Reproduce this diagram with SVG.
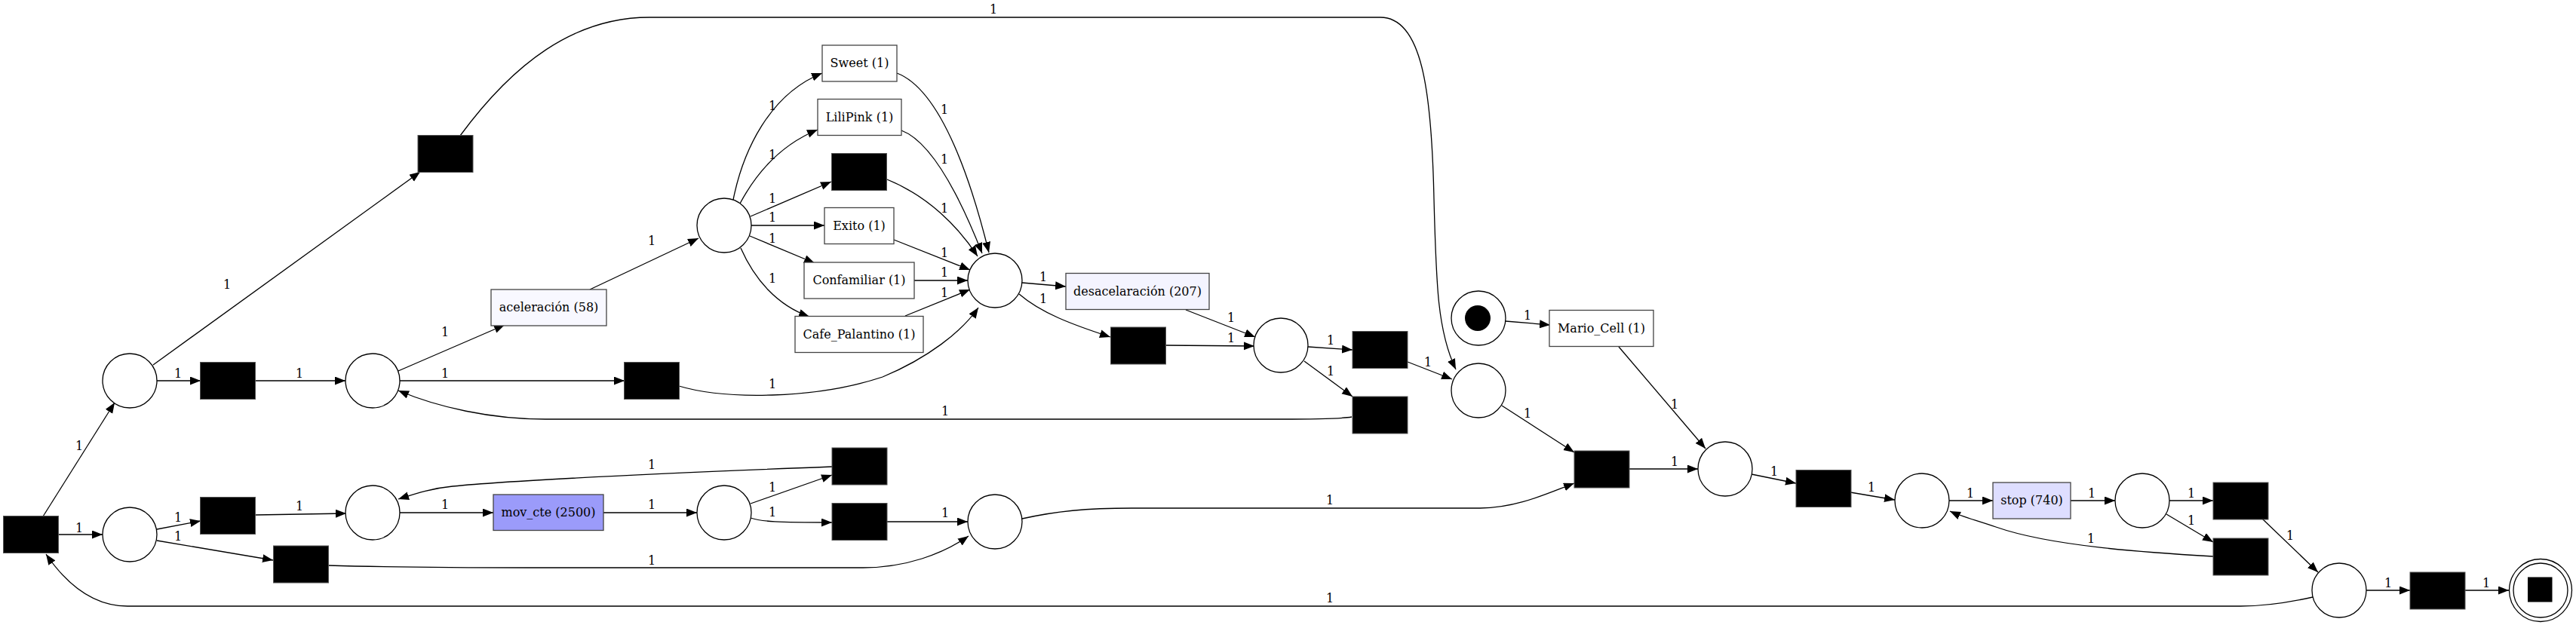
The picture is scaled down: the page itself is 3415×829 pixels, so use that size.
<svg xmlns="http://www.w3.org/2000/svg" width="3415" height="829" viewBox="0 0 3415 829">
<defs>
<marker id="arr" markerUnits="userSpaceOnUse" markerWidth="15" markerHeight="12" refX="14" refY="5.5" orient="auto"><path d="M0,0 L14,5.5 L0,11 z" fill="#000"/></marker>
<style>
.e{fill:none;stroke:#000;stroke-width:1.3;marker-end:url(#arr)}
.l{font-family:"DejaVu Serif","Liberation Serif",serif;font-size:16px;text-anchor:middle;fill:#000}
.t{font-family:"DejaVu Serif","Liberation Serif",serif;font-size:16px;text-anchor:middle;fill:#000}
.p{fill:#fff;stroke:#000;stroke-width:1.3}
.h{fill:#000;stroke:#555;stroke-width:1}
.b{stroke:#444;stroke-width:1.3}
</style>
</defs>
<rect width="3415" height="829" fill="#fff"/>
<g id="connectors">
<path class="e" d="M57,685 L152,534"/>
<path class="e" d="M78,709 L136,709"/>
<path class="e" d="M3066,792 C3030,800 3000,804 2970,804 L169,804 C120,804 85,770 61,735"/>
<path class="e" d="M203,484 L557,228"/>
<path class="e" d="M208,505 L266,505"/>
<path class="e" d="M339,505 L458,505"/>
<path class="e" d="M528,492 L669,431"/>
<path class="e" d="M530,505 L828,505"/>
<path class="e" d="M782,384 L926,316"/>
<path class="e" d="M972,265 C985,200 1020,125 1090,97"/>
<path class="e" d="M981,270 C1005,225 1040,190 1084,172"/>
<path class="e" d="M995,287 L1102,241"/>
<path class="e" d="M996,299 L1093,299"/>
<path class="e" d="M994,313 L1080,349"/>
<path class="e" d="M982,329 C1000,370 1030,405 1073,420"/>
<path class="e" d="M1189,97 C1250,120 1290,250 1311,335"/>
<path class="e" d="M1195,173 C1240,190 1280,280 1302,336"/>
<path class="e" d="M1176,238 C1230,260 1270,300 1296,340"/>
<path class="e" d="M1185,318 L1286,358"/>
<path class="e" d="M1212,372 L1283,372"/>
<path class="e" d="M1200,419 L1286,384"/>
<path class="e" d="M900,512 C960,530 1080,530 1170,500 C1230,475 1275,440 1297,408"/>
<path class="e" d="M1355,375 L1413,380"/>
<path class="e" d="M1351,390 C1380,415 1420,430 1472,447"/>
<path class="e" d="M1572,411 L1664,447"/>
<path class="e" d="M1545,458 L1663,459"/>
<path class="e" d="M1734,460 L1793,464"/>
<path class="e" d="M1729,479 L1793,526"/>
<path class="e" d="M1792,553 C1780,555 1760,556 1700,556 L723,556 C650,556 580,540 528,518"/>
<path class="e" d="M1866,480 L1925,503"/>
<path class="e" d="M610,180 C680,85 760,23 861,23 L1830,23 C1885,23 1898,120 1901,264 C1904,380 1906,440 1930,490"/>
<path class="e" d="M1996,426 L2055,431"/>
<path class="e" d="M2146,460 L2261,595"/>
<path class="e" d="M1991,538 L2087,600"/>
<path class="e" d="M1355,688 C1400,678 1440,674 1500,674 L1962,674 C2010,674 2050,655 2087,641"/>
<path class="e" d="M2160,622 L2251,622"/>
<path class="e" d="M2322,629 L2381,641"/>
<path class="e" d="M2453,653 L2512,663"/>
<path class="e" d="M2584,664 L2642,664"/>
<path class="e" d="M2745,664 L2804,664"/>
<path class="e" d="M2876,664 L2934,664"/>
<path class="e" d="M2872,682 L2934,719"/>
<path class="e" d="M2934,738 C2850,733 2720,725 2646,699 C2620,690 2600,685 2585,678"/>
<path class="e" d="M2999,688 L3073,759"/>
<path class="e" d="M3137,783 L3195,783"/>
<path class="e" d="M3267,783 L3326,783"/>
<path class="e" d="M208,702 L266,691"/>
<path class="e" d="M208,717 L362,743"/>
<path class="e" d="M339,683 L459,681"/>
<path class="e" d="M530,680 L654,680"/>
<path class="e" d="M800,680 L924,680"/>
<path class="e" d="M995,668 L1103,630"/>
<path class="e" d="M995,687 C1010,692 1030,693 1103,693"/>
<path class="e" d="M1175,692 L1283,692"/>
<path class="e" d="M1103,619 C1000,623 700,635 600,645 C570,648 550,655 528,662"/>
<path class="e" d="M435,750 C500,752 600,753 700,753 L1144,753 C1200,753 1250,735 1284,711"/>
</g>
<g id="edge-labels">
<text class="l" x="105" y="597">1</text>
<text class="l" x="105" y="706">1</text>
<text class="l" x="1763" y="799">1</text>
<text class="l" x="301" y="383">1</text>
<text class="l" x="236" y="501">1</text>
<text class="l" x="397" y="501">1</text>
<text class="l" x="590" y="446">1</text>
<text class="l" x="590" y="501">1</text>
<text class="l" x="864" y="325">1</text>
<text class="l" x="1024" y="146">1</text>
<text class="l" x="1024" y="211">1</text>
<text class="l" x="1024" y="269">1</text>
<text class="l" x="1024" y="294">1</text>
<text class="l" x="1024" y="322">1</text>
<text class="l" x="1024" y="375">1</text>
<text class="l" x="1252" y="151">1</text>
<text class="l" x="1252" y="217">1</text>
<text class="l" x="1252" y="282">1</text>
<text class="l" x="1252" y="341">1</text>
<text class="l" x="1252" y="367">1</text>
<text class="l" x="1252" y="394">1</text>
<text class="l" x="1024" y="515">1</text>
<text class="l" x="1383" y="373">1</text>
<text class="l" x="1383" y="402">1</text>
<text class="l" x="1632" y="427">1</text>
<text class="l" x="1632" y="454">1</text>
<text class="l" x="1764" y="457">1</text>
<text class="l" x="1764" y="498">1</text>
<text class="l" x="1253" y="551">1</text>
<text class="l" x="1893" y="486">1</text>
<text class="l" x="1317" y="18">1</text>
<text class="l" x="2025" y="424">1</text>
<text class="l" x="2220" y="542">1</text>
<text class="l" x="2025" y="554">1</text>
<text class="l" x="1763" y="669">1</text>
<text class="l" x="2220" y="618">1</text>
<text class="l" x="2352" y="631">1</text>
<text class="l" x="2481" y="652">1</text>
<text class="l" x="2612" y="660">1</text>
<text class="l" x="2773" y="660">1</text>
<text class="l" x="2905" y="660">1</text>
<text class="l" x="2905" y="696">1</text>
<text class="l" x="2772" y="720">1</text>
<text class="l" x="3036" y="716">1</text>
<text class="l" x="3166" y="779">1</text>
<text class="l" x="3296" y="779">1</text>
<text class="l" x="236" y="692">1</text>
<text class="l" x="236" y="717">1</text>
<text class="l" x="397" y="677">1</text>
<text class="l" x="590" y="675">1</text>
<text class="l" x="864" y="675">1</text>
<text class="l" x="1024" y="652">1</text>
<text class="l" x="1024" y="685">1</text>
<text class="l" x="1253" y="686">1</text>
<text class="l" x="864" y="622">1</text>
<text class="l" x="864" y="749">1</text>
</g>
<g id="t0"><rect class="h" x="4.5" y="684.5" width="73" height="49"/></g>
<g id="tA"><rect class="h" x="265.5" y="480.5" width="73" height="49"/></g>
<g id="tTop"><rect class="h" x="554" y="179.5" width="73" height="49"/></g>
<g id="tB"><rect class="h" x="265.5" y="659.5" width="73" height="49"/></g>
<g id="tC"><rect class="h" x="362.5" y="724" width="73" height="49"/></g>
<g id="tD"><rect class="h" x="827.5" y="480.5" width="73" height="49"/></g>
<g id="tE"><rect class="h" x="1102.5" y="203.5" width="73" height="49"/></g>
<g id="tF"><rect class="h" x="1472.5" y="434" width="73" height="49"/></g>
<g id="tG"><rect class="h" x="1793" y="439.5" width="73" height="49"/></g>
<g id="tH"><rect class="h" x="1793" y="526" width="73" height="49"/></g>
<g id="tI"><rect class="h" x="1103" y="594" width="73" height="49"/></g>
<g id="tJ"><rect class="h" x="1103" y="667.5" width="73" height="49"/></g>
<g id="tK"><rect class="h" x="2087" y="598" width="73" height="49"/></g>
<g id="tL"><rect class="h" x="2381" y="623.5" width="73" height="49"/></g>
<g id="tM"><rect class="h" x="2934" y="640" width="73" height="49"/></g>
<g id="tN"><rect class="h" x="2934" y="714" width="73" height="49"/></g>
<g id="tO"><rect class="h" x="3195" y="759" width="73" height="49"/></g>
<g id="t-aceleracion"><rect class="b" x="651" y="384" width="153" height="48" fill="#f8f8ff"/><text class="t" x="727.5" y="413">aceleración (58)</text></g>
<g id="t-movcte"><rect class="b" x="654" y="656" width="146" height="47.5" fill="#9b9bfa"/><text class="t" x="727" y="685">mov_cte (2500)</text></g>
<g id="t-sweet"><rect class="b" x="1090" y="60" width="99" height="48" fill="#fff"/><text class="t" x="1139.5" y="89">Sweet (1)</text></g>
<g id="t-lilipink"><rect class="b" x="1084" y="131.5" width="111" height="48" fill="#fff"/><text class="t" x="1139.5" y="160.5">LiliPink (1)</text></g>
<g id="t-exito"><rect class="b" x="1093" y="275.5" width="92" height="48" fill="#fff"/><text class="t" x="1139" y="304.5">Exito (1)</text></g>
<g id="t-confamiliar"><rect class="b" x="1066" y="348" width="146" height="48" fill="#fff"/><text class="t" x="1139" y="377">Confamiliar (1)</text></g>
<g id="t-cafe"><rect class="b" x="1054" y="419.5" width="170" height="48" fill="#fff"/><text class="t" x="1139" y="448.5">Cafe_Palantino (1)</text></g>
<g id="t-desacel"><rect class="b" x="1413" y="362.5" width="190" height="48" fill="#f4f4ff"/><text class="t" x="1508" y="391.5">desacelaración (207)</text></g>
<g id="t-mario"><rect class="b" x="2054" y="411.5" width="138" height="48" fill="#fff"/><text class="t" x="2123" y="440.5">Mario_Cell (1)</text></g>
<g id="t-stop"><rect class="b" x="2642" y="640" width="103" height="48" fill="#dedeff"/><text class="t" x="2693.5" y="669">stop (740)</text></g>
<g id="P1"><circle class="p" cx="172" cy="505" r="36"/></g>
<g id="P2"><circle class="p" cx="172" cy="709" r="36"/></g>
<g id="P3"><circle class="p" cx="494" cy="505" r="36"/></g>
<g id="P4"><circle class="p" cx="494" cy="680" r="36"/></g>
<g id="Pchoice"><circle class="p" cx="960" cy="299" r="36"/></g>
<g id="Pmerge"><circle class="p" cx="1319" cy="372" r="36"/></g>
<g id="P6"><circle class="p" cx="960" cy="680" r="36"/></g>
<g id="P5"><circle class="p" cx="1319" cy="692" r="36"/></g>
<g id="Pd"><circle class="p" cx="1698" cy="458" r="36"/></g>
<g id="Pstart"><circle class="p" cx="1960" cy="422" r="36"/><circle cx="1959" cy="422" r="17" fill="#000"/></g>
<g id="Pq"><circle class="p" cx="1960" cy="518" r="36"/></g>
<g id="Pr"><circle class="p" cx="2287" cy="622" r="36"/></g>
<g id="Ps"><circle class="p" cx="2548" cy="664" r="36"/></g>
<g id="Pt"><circle class="p" cx="2840" cy="664" r="36"/></g>
<g id="Pu"><circle class="p" cx="3101" cy="783" r="36"/></g>
<g id="Pend"><circle class="p" cx="3368" cy="783" r="41.5"/><circle class="p" cx="3368" cy="783" r="36"/><rect x="3351" y="765.5" width="32.5" height="33" fill="#000"/></g>
</svg>
